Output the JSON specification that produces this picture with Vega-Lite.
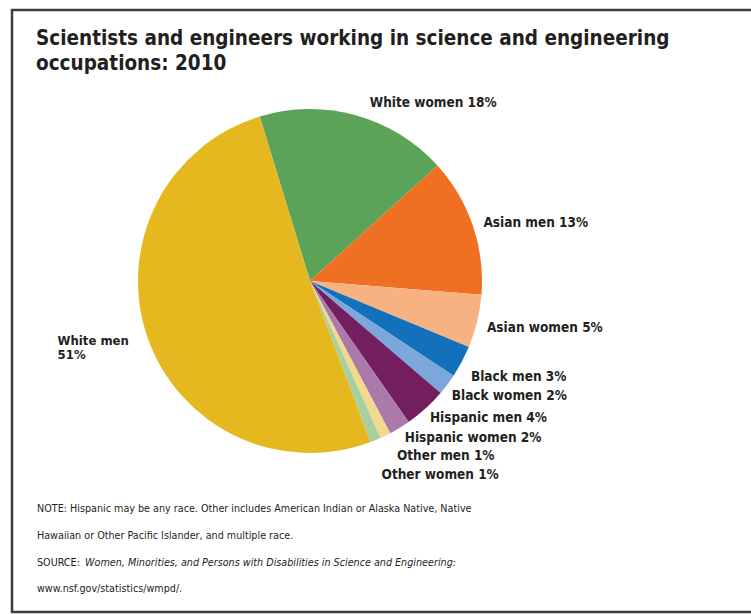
{
  "$schema": "https://vega.github.io/schema/vega-lite/v6.json",
  "width": 745,
  "height": 602,
  "autosize": {"type": "none"},
  "padding": {"left": 12, "top": 10, "right": 0, "bottom": 2},
  "background": "white",
  "view": {"stroke": "#3d3d3d", "strokeWidth": 2.5, "fill": "white"},
  "config": {
    "view": {"stroke": "#3d3d3d", "strokeWidth": 2.5},
    "style": {"view": {"stroke": "#3d3d3d", "strokeWidth": 2.5}},
    "font": "DejaVu Sans Condensed, Liberation Sans Narrow, Liberation Sans, sans-serif",
    "text": {"font": "DejaVu Sans Condensed, Liberation Sans Narrow, Liberation Sans, sans-serif", "color": "#231f20"}
  },
  "title": {
    "text": ["Scientists and engineers working in science and engineering", "occupations: 2010"],
    "anchor": "start",
    "frame": "group",
    "orient": "top",
    "font": "DejaVu Sans Condensed, Liberation Sans Narrow, Liberation Sans, sans-serif",
    "fontSize": 20.5,
    "fontWeight": "bold",
    "color": "#231f20",
    "lineHeight": 25,
    "baseline": "alphabetic",
    "offset": 0,
    "dx": 24,
    "dy": 80
  },
  "data": {
    "values": [
      {"category": "White women", "percent": 18, "rank": 1, "label": "White women 18%"},
      {"category": "Asian men", "percent": 13, "rank": 2, "label": "Asian men 13%"},
      {"category": "Asian women", "percent": 5, "rank": 3, "label": "Asian women 5%"},
      {"category": "Black men", "percent": 3, "rank": 4, "label": "Black men 3%"},
      {"category": "Black women", "percent": 2, "rank": 5, "label": "Black women 2%"},
      {"category": "Hispanic men", "percent": 4, "rank": 6, "label": "Hispanic men 4%"},
      {"category": "Hispanic women", "percent": 2, "rank": 7, "label": "Hispanic women 2%"},
      {"category": "Other men", "percent": 1, "rank": 8, "label": "Other men 1%"},
      {"category": "Other women", "percent": 1, "rank": 9, "label": "Other women 1%"},
      {"category": "White men", "percent": 51, "rank": 10, "label": "White men\n51%"}
    ]
  },
  "encoding": {
    "theta": {"field": "percent", "type": "quantitative", "stack": true, "scale": {"range": [-0.2967, 5.9865]}},
    "order": {"field": "rank", "type": "quantitative"}
  },
  "layer": [
    {
      "mark": {"type": "arc", "x": 298, "y": 271, "outerRadius": 172},
      "encoding": {
        "color": {
          "field": "category",
          "type": "nominal",
          "legend": null,
          "scale": {
            "domain": ["White women", "Asian men", "Asian women", "Black men", "Black women", "Hispanic men", "Hispanic women", "Other men", "Other women", "White men"],
            "range": ["#5ba358", "#f07023", "#f7b282", "#1271ba", "#7ba7da", "#731e5e", "#ab7aaa", "#f2d98c", "#a6d0a0", "#e5b820"]
          }
        }
      }
    },
    {
      "mark": {"type": "text", "x": 298, "y": 271, "radius": 180, "align": "left", "baseline": "middle", "fontSize": 13.5, "fontWeight": "bold", "dx": 12, "dy": -4},
      "encoding": {"detail": {"field": "category"}, "text": {"condition": {"test": "datum.category === 'White women'", "field": "label"}, "value": ""}}
    },
    {
      "mark": {"type": "text", "x": 298, "y": 271, "radius": 180, "align": "left", "baseline": "middle", "fontSize": 13.5, "fontWeight": "bold", "dx": 3, "dy": 0},
      "encoding": {"detail": {"field": "category"}, "text": {"condition": {"test": "datum.category === 'Asian men'", "field": "label"}, "value": ""}}
    },
    {
      "mark": {"type": "text", "x": 298, "y": 271, "radius": 180, "align": "left", "baseline": "middle", "fontSize": 13.5, "fontWeight": "bold", "dx": 2, "dy": 5},
      "encoding": {"detail": {"field": "category"}, "text": {"condition": {"test": "datum.category === 'Asian women'", "field": "label"}, "value": ""}}
    },
    {
      "mark": {"type": "text", "x": 298, "y": 271, "radius": 180, "align": "left", "baseline": "middle", "fontSize": 13.5, "fontWeight": "bold", "dx": 2, "dy": 11},
      "encoding": {"detail": {"field": "category"}, "text": {"condition": {"test": "datum.category === 'Black men'", "field": "label"}, "value": ""}}
    },
    {
      "mark": {"type": "text", "x": 298, "y": 271, "radius": 180, "align": "left", "baseline": "middle", "fontSize": 13.5, "fontWeight": "bold", "dx": -2, "dy": 7},
      "encoding": {"detail": {"field": "category"}, "text": {"condition": {"test": "datum.category === 'Black women'", "field": "label"}, "value": ""}}
    },
    {
      "mark": {"type": "text", "x": 298, "y": 271, "radius": 180, "align": "left", "baseline": "middle", "fontSize": 13.5, "fontWeight": "bold", "dx": -1, "dy": 4},
      "encoding": {"detail": {"field": "category"}, "text": {"condition": {"test": "datum.category === 'Hispanic men'", "field": "label"}, "value": ""}}
    },
    {
      "mark": {"type": "text", "x": 298, "y": 271, "radius": 180, "align": "left", "baseline": "middle", "fontSize": 13.5, "fontWeight": "bold", "dx": 1, "dy": 3},
      "encoding": {"detail": {"field": "category"}, "text": {"condition": {"test": "datum.category === 'Hispanic women'", "field": "label"}, "value": ""}}
    },
    {
      "mark": {"type": "text", "x": 298, "y": 271, "radius": 180, "align": "left", "baseline": "middle", "fontSize": 13.5, "fontWeight": "bold", "dx": 8, "dy": 13},
      "encoding": {"detail": {"field": "category"}, "text": {"condition": {"test": "datum.category === 'Other men'", "field": "label"}, "value": ""}}
    },
    {
      "mark": {"type": "text", "x": 298, "y": 271, "radius": 180, "align": "left", "baseline": "middle", "fontSize": 13.5, "fontWeight": "bold", "dx": 3, "dy": 28},
      "encoding": {"detail": {"field": "category"}, "text": {"condition": {"test": "datum.category === 'Other women'", "field": "label"}, "value": ""}}
    },
    {
      "mark": {"type": "text", "x": 298, "y": 271, "radius": 180, "align": "left", "baseline": "top", "fontSize": 13, "fontWeight": "bold", "lineHeight": 14, "lineBreak": "\n", "dx": -82, "dy": -4},
      "encoding": {"detail": {"field": "category"}, "text": {"condition": {"test": "datum.category === 'White men'", "field": "label"}, "value": ""}}
    },
    {
      "data": {"values": [{"note": ["NOTE: Hispanic may be any race. Other includes American Indian or Alaska Native, Native", "Hawaiian or Other Pacific Islander, and multiple race."]}]},
      "mark": {"type": "text", "x": 25, "y": 502, "align": "left", "baseline": "alphabetic", "fontSize": 10.7, "lineHeight": 27},
      "encoding": {"text": {"field": "note"}, "theta": null, "order": null}
    },
    {
      "data": {"values": [{"note": ["SOURCE:", "www.nsf.gov/statistics/wmpd/."]}]},
      "mark": {"type": "text", "x": 25, "y": 556, "align": "left", "baseline": "alphabetic", "fontSize": 10.7, "lineHeight": 26},
      "encoding": {"text": {"field": "note"}, "theta": null, "order": null}
    },
    {
      "data": {"values": [{"note": "Women, Minorities, and Persons with Disabilities in Science and Engineering:"}]},
      "mark": {"type": "text", "x": 73, "y": 556, "align": "left", "baseline": "alphabetic", "fontSize": 10.7, "fontStyle": "italic"},
      "encoding": {"text": {"field": "note"}, "theta": null, "order": null}
    }
  ]
}
